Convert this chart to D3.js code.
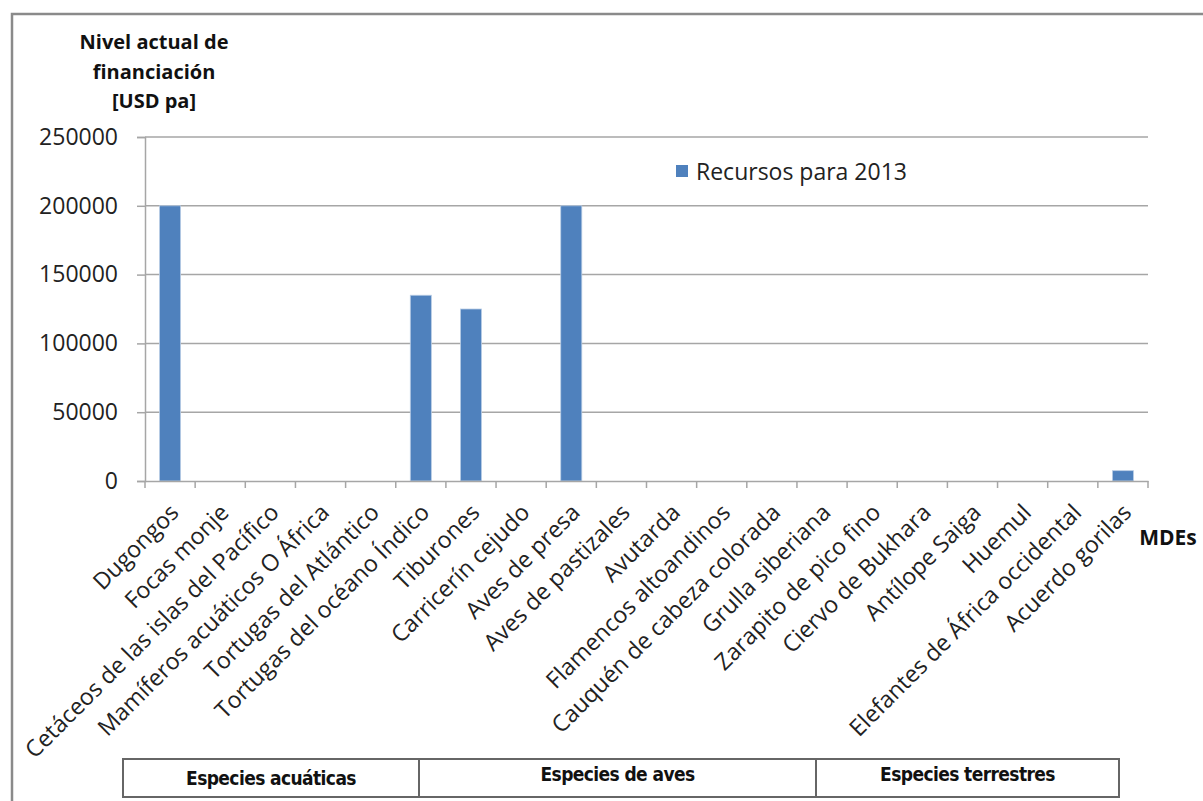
<!DOCTYPE html>
<html><head><meta charset="utf-8">
<script src="https://cdn.jsdelivr.net/npm/d3@7"></script>
<style>body{margin:0;background:#fff}svg{display:block}</style>
</head><body>
<script>
const categories = ["Dugongos","Focas monje","Cetáceos de las islas del Pacífico","Mamíferos acuáticos O África","Tortugas del Atlántico","Tortugas del océano Índico","Tiburones","Carricerín cejudo","Aves de presa","Aves de pastizales","Avutarda","Flamencos altoandinos","Cauquén de cabeza colorada","Grulla siberiana","Zarapito de pico fino","Ciervo de Bukhara","Antílope Saiga","Huemul","Elefantes de África occidental","Acuerdo gorilas"];
const values = [200000,0,0,0,0,135000,125000,0,200000,0,0,0,0,0,0,0,0,0,0,7500];
const yTicks = [0,50000,100000,150000,200000,250000];
const seriesName = "Recursos para 2013";
const titleLines = ["Nivel actual de","financiación","[USD pa]"];
const groups = ["Especies acuáticas","Especies de aves","Especies terrestres"];

const W=1203,H=801;
const svg=d3.select("body").append("svg").attr("width",W).attr("height",H);
svg.append("rect").attr("x",12).attr("y",14).attr("width",W+10).attr("height",H+10)
  .attr("fill","#fff").attr("stroke","#8a8a8a").attr("stroke-width",2.5);

const L=145,R=1148,T=137,B=481;
const x=d3.scaleBand().domain(categories).range([L,R]).padding(0);
const xb=d3.scaleBand().domain(categories).range([L,R]).paddingInner(0.58).paddingOuter(0.29);
const y=d3.scaleLinear().domain([0,250000]).range([B,T]);
const font="'Open Sans', sans-serif";

// gridlines
svg.append("g").selectAll("line").data(yTicks.slice(1)).join("line")
  .attr("x1",L).attr("x2",R).attr("y1",d=>y(d)).attr("y2",d=>y(d))
  .attr("stroke","#a6a6a6").attr("stroke-width",1.5);

// y axis
const ya=svg.append("g").attr("transform",`translate(${L},0)`)
  .call(d3.axisLeft(y).tickValues(yTicks).tickSize(8).tickPadding(19).tickFormat(d3.format("d")));
ya.select(".domain").attr("stroke","#a6a6a6").attr("stroke-width",1.5);
ya.selectAll(".tick line").attr("stroke","#a6a6a6").attr("stroke-width",1.5);
ya.selectAll("text").attr("font-family",font).attr("font-size",23).attr("fill","#222");

// bars
svg.append("g").selectAll("rect").data(categories.map((c,i)=>({c,v:values[i]}))).join("rect")
  .attr("x",d=>xb(d.c)).attr("width",xb.bandwidth())
  .attr("y",d=>y(d.v)).attr("height",d=>B-y(d.v))
  .attr("fill","#4f81bd").attr("stroke","#b9cde5").attr("stroke-width",0.8);

// x axis
const xa=svg.append("g").attr("transform",`translate(0,${B})`)
  .call(d3.axisBottom(x).tickSize(0).tickSizeOuter(0));
xa.select(".domain").attr("stroke","#a6a6a6").attr("stroke-width",1.5);
xa.selectAll(".tick line").remove();
svg.append("g").selectAll("line").data(d3.range(categories.length+1)).join("line")
  .attr("x1",i=>L+i*x.step()).attr("x2",i=>L+i*x.step()).attr("y1",B).attr("y2",B+7)
  .attr("stroke","#a6a6a6").attr("stroke-width",1.5);
xa.selectAll(".tick text").attr("font-family",font).attr("font-size",23.2).attr("fill","#222")
  .attr("text-anchor","end").attr("dy",0).attr("y",0)
  .attr("transform",`translate(10,33) rotate(-45)`);

// title
svg.append("text").attr("font-family",font).attr("font-weight","bold").attr("font-size",20)
  .attr("text-anchor","middle").attr("fill","#111")
  .selectAll("tspan").data(titleLines).join("tspan")
  .attr("x",154).attr("y",(d,i)=>49+i*29.5).text(d=>d);

// MDEs
svg.append("text").attr("x",1168).attr("y",545).attr("text-anchor","middle")
  .attr("font-family",font).attr("font-weight","bold").attr("font-size",21).attr("fill","#111").text("MDEs");

// legend
svg.append("rect").attr("x",676).attr("y",165).attr("width",12).attr("height",12).attr("fill","#4f81bd");
svg.append("text").attr("x",696).attr("y",180).attr("font-family",font).attr("font-size",23).attr("fill","#222").text(seriesName);

// group table
const gx=[123,419,816,1119];
const tb=svg.append("g");
tb.append("rect").attr("x",gx[0]).attr("y",759).attr("width",gx[3]-gx[0]).attr("height",38)
  .attr("fill","#fff").attr("stroke","#666").attr("stroke-width",2);
tb.selectAll("line").data([gx[1],gx[2]]).join("line").attr("x1",d=>d).attr("x2",d=>d)
  .attr("y1",759).attr("y2",797).attr("stroke","#666").attr("stroke-width",2);
tb.selectAll("text").data(groups).join("text")
  .attr("x",(d,i)=>(gx[i]+gx[i+1])/2).attr("y",(d,i)=>i===0?785:781).attr("text-anchor","middle")
  .attr("font-family","'DejaVu Sans Condensed','DejaVu Sans',sans-serif").attr("font-stretch","condensed").attr("font-weight","bold")
  .attr("font-size",19).attr("letter-spacing",-0.6).attr("fill","#111").text(d=>d);
</script>
</body></html>
